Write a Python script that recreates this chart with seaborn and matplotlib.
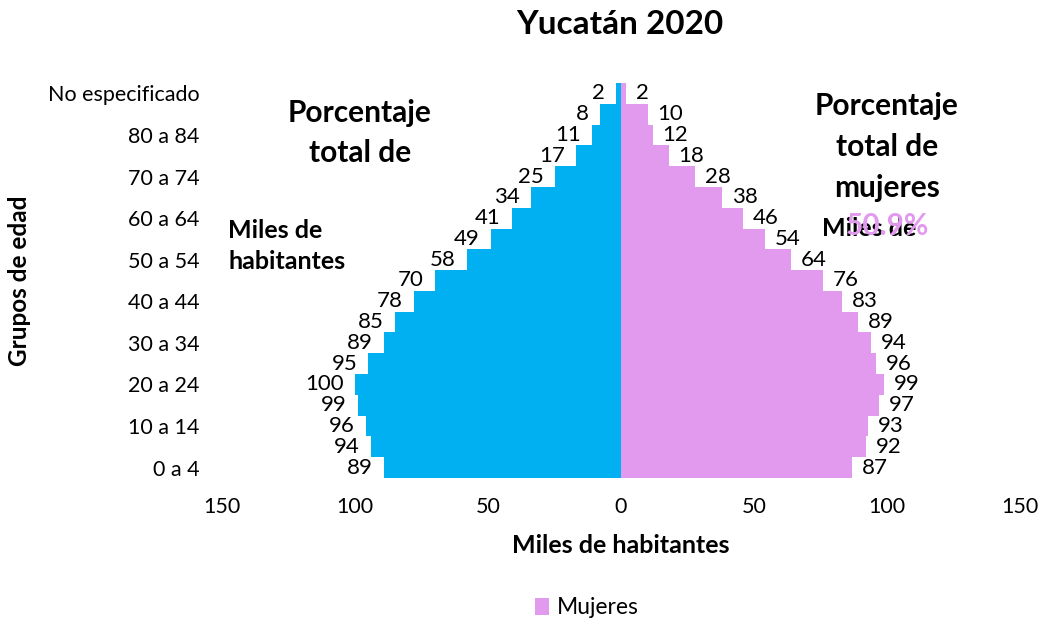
import numpy as np
import pandas as pd
import matplotlib.pyplot as plt
import seaborn as sns

grupos = ["0 a 4", "5 a 9", "10 a 14", "15 a 19", "20 a 24", "25 a 29", "30 a 34",
          "35 a 39", "40 a 44", "45 a 49", "50 a 54", "55 a 59", "60 a 64", "65 a 69",
          "70 a 74", "75 a 79", "80 a 84", "85 y más", "No especificado"]
hombres = [89, 94, 96, 99, 100, 95, 89, 85, 78, 70, 58, 49, 41, 34, 25, 17, 11, 8, 2]
mujeres = [87, 92, 93, 97, 99, 96, 94, 89, 83, 76, 64, 54, 46, 38, 28, 18, 12, 10, 2]
xticks = [-150, -100, -50, 0, 50, 100, 150]

color_h = "#00B0F0"
color_m = "#E29AEE"

sns.set_theme(style="white")
plt.rcParams["font.family"] = ["Lato", "DejaVu Sans"]
plt.rcParams["text.color"] = "black"
plt.rcParams["axes.labelcolor"] = "black"
plt.rcParams["xtick.color"] = "black"
plt.rcParams["ytick.color"] = "black"

df = pd.DataFrame({"grupo": grupos, "Hombres": [-v for v in hombres], "Mujeres": mujeres})
orden = grupos[::-1]

fig = plt.figure(figsize=(10.42, 6.19), dpi=100)
ax = fig.add_axes([222 / 1042, 1 - 478 / 619, 798 / 1042, 395 / 619])

sns.barplot(data=df, x="Hombres", y="grupo", order=orden, orient="h", color=color_h,
            width=1, saturation=1, linewidth=0, ax=ax, label="Hombres")
sns.barplot(data=df, x="Mujeres", y="grupo", order=orden, orient="h", color=color_m,
            width=1, saturation=1, linewidth=0, ax=ax, label="Mujeres")

cont_h, cont_m = ax.containers[0], ax.containers[1]
ax.bar_label(cont_h, labels=[str(v) for v in df.set_index("grupo").loc[orden, "Hombres"].abs()],
             padding=8, fontsize=16)
ax.bar_label(cont_m, labels=[str(v) for v in df.set_index("grupo").loc[orden, "Mujeres"]],
             padding=7, fontsize=16)

ax.set_xlim(-150, 150)
ax.set_ylim(18.5, -0.5)
ax.set_xticks(xticks)
ax.set_xticklabels([str(abs(v)) for v in xticks], fontsize=15.5)
ax.set_yticks(range(0, 19, 2))
ax.set_yticklabels(orden[::2], fontsize=15.5)
ax.tick_params(axis="both", length=0)
ax.tick_params(axis="y", pad=16)
ax.tick_params(axis="x", pad=14)
sns.despine(ax=ax, left=True, bottom=True)
ax.set_xlabel("Miles de habitantes", fontsize=18, fontweight="bold", labelpad=12)
ax.set_ylabel("")
fig.text(20 / 1042, 1 - 281 / 619, "Grupos de edad", rotation=90, fontsize=17.5,
         fontweight="bold", ha="center", va="center")

fig.suptitle("Yucatán 2020", x=620 / 1042, y=1 - 25 / 619, fontsize=24,
             fontweight="bold", va="center")

fig.text(360 / 1042, 1 - 133 / 619, "Porcentaje\ntotal de", fontsize=21.5,
         fontweight="bold", ha="center", va="center", linespacing=1.55)
fig.text(228 / 1042, 1 - 246 / 619, "Miles de\nhabitantes", fontsize=18,
         fontweight="bold", ha="left", va="center", linespacing=1.41)
fig.text(887 / 1042, 1 - 147 / 619, "Porcentaje\ntotal de\nmujeres", fontsize=21.5,
         fontweight="bold", ha="center", va="center", linespacing=1.55)
fig.text(822 / 1042, 1 - 229 / 619, "Miles de", fontsize=18,
         fontweight="bold", ha="left", va="center")
fig.text(887 / 1042, 1 - 226 / 619, "50.9%", fontsize=21.5, color=color_m,
         fontweight="bold", ha="center", va="center")

handles, labels = ax.get_legend_handles_labels()
if ax.get_legend() is not None:
    ax.get_legend().remove()
fig.legend([handles[labels.index("Mujeres")]], ["Mujeres"], loc="center",
           bbox_to_anchor=(587 / 1042, 1 - 608 / 619), frameon=False, fontsize=16.5,
           handlelength=0.6, handleheight=0.8, handletextpad=0.35)

fig.savefig("out.png", dpi=100)
